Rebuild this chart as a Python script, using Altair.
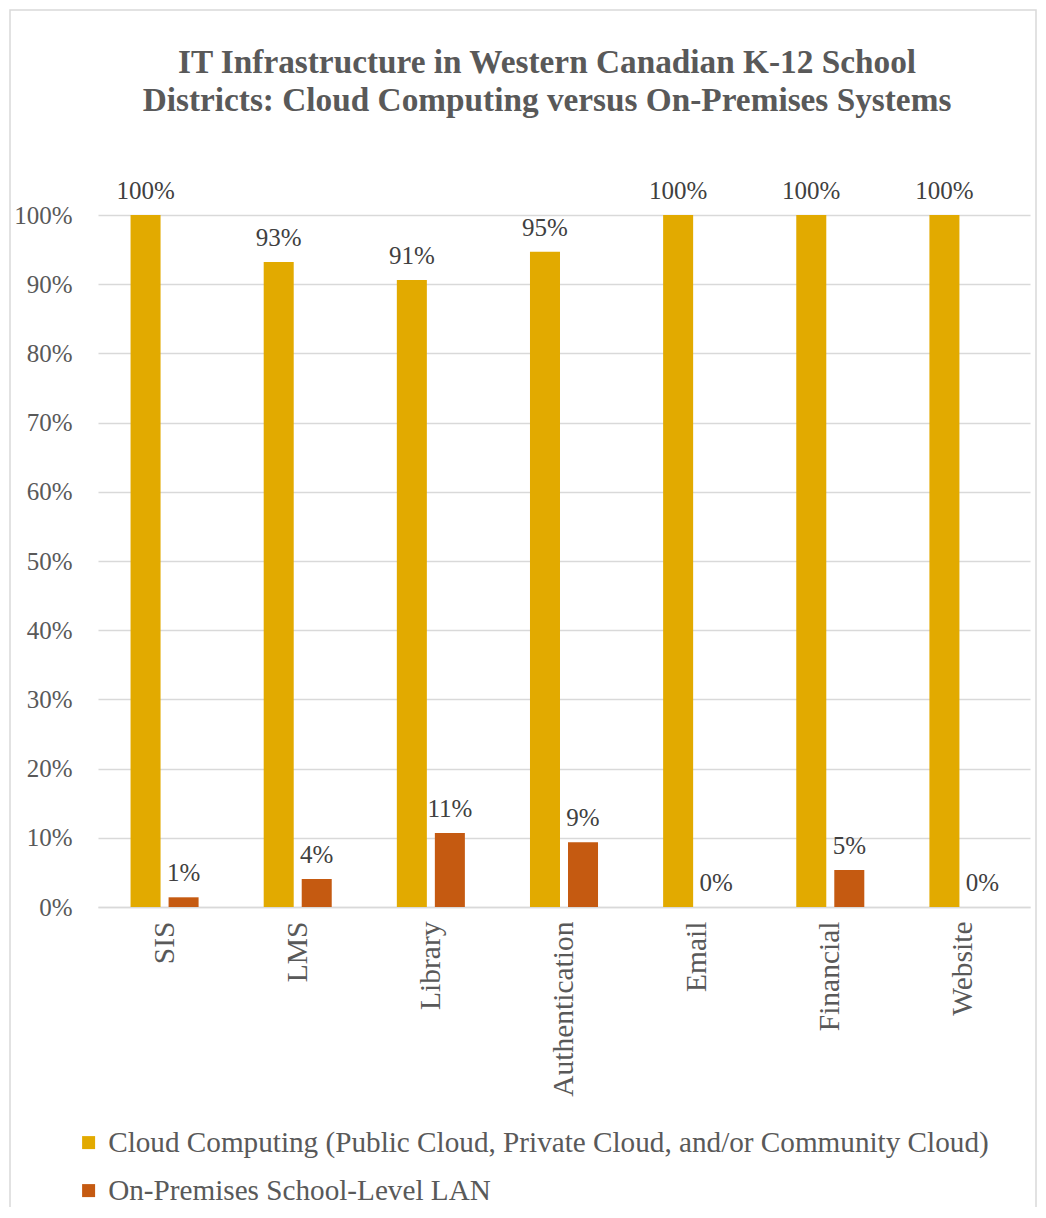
import altair as alt
import pandas as pd

categories = ["SIS", "LMS", "Library", "Authentication", "Email", "Financial", "Website"]
series = ["Cloud Computing (Public Cloud, Private Cloud, and/or Community Cloud)",
          "On-Premises School-Level LAN"]
cloud_values = [1.00, 0.932, 0.906, 0.947, 1.00, 1.00, 1.00]
lan_values = [0.014, 0.0405, 0.107, 0.0935, 0.0, 0.0535, 0.0]
colors = ["#E2AA00", "#C55A11"]

rows = []
for c, v in zip(categories, cloud_values):
    rows.append({"cat": c, "series": series[0], "value": v})
for c, v in zip(categories, lan_values):
    rows.append({"cat": c, "series": series[1], "value": v})
df = pd.DataFrame(rows)

FONT = "Liberation Serif"

x_enc = alt.X("cat:N", sort=categories, title=None,
              scale=alt.Scale(paddingInner=0.489, paddingOuter=0.2445),
              axis=alt.Axis(labelAngle=-90, labelFont=FONT, labelFontSize=29.5,
                            labelColor="#595959", labelPadding=14, ticks=False,
                            domainColor="#d9d9d9", domainWidth=1.5, grid=False))
xoff_enc = alt.XOffset("series:N", sort=series,
                       scale=alt.Scale(paddingInner=0.2105, paddingOuter=0))
y_enc = alt.Y("value:Q", title=None,
              scale=alt.Scale(domain=[0, 1], nice=False),
              axis=alt.Axis(values=[i / 10 for i in range(11)], format=".0%",
                            labelFont=FONT, labelFontSize=25, labelColor="#595959",
                            labelPadding=26, ticks=False, domain=False,
                            gridColor="#d9d9d9", gridWidth=1.5))
color_enc = alt.Color("series:N", sort=series,
                      scale=alt.Scale(domain=series, range=colors),
                      legend=alt.Legend(title=None, orient="none", legendX=-24, legendY=913,
                                        direction="vertical", symbolType="square",
                                        symbolSize=169, symbolStrokeWidth=0,
                                        labelFont=FONT, labelFontSize=29.2,
                                        labelColor="#595959", labelLimit=0,
                                        labelOffset=5, rowPadding=18))

base = alt.Chart(df)
bars = base.mark_bar().encode(x=x_enc, xOffset=xoff_enc, y=y_enc, color=color_enc)
labels = base.mark_text(font=FONT, fontSize=25, color="#404040",
                        baseline="alphabetic", dy=-16).encode(
    x=alt.X("cat:N", sort=categories),
    xOffset=alt.XOffset("series:N", sort=series),
    y="value:Q",
    text=alt.Text("value:Q", format=".0%"))

border = alt.Chart(alt.Data(values=[{}])).mark_rect(
    fill=None, stroke="#d9d9d9", strokeWidth=1.5).encode(
    x=alt.value(-88), x2=alt.value(938), y=alt.value(-205), y2=alt.value(1010))

chart = alt.layer(border, bars, labels).properties(
    width=932, height=692,
    autosize=alt.AutoSizeParams(type="none"),
    padding={"left": 90, "top": 207, "right": 8, "bottom": 300},
    title=alt.TitleParams(
        ["IT Infrastructure in Western Canadian K-12 School",
         "Districts: Cloud Computing versus On-Premises Systems"],
        font=FONT, fontSize=33.3, fontWeight="bold", color="#595959",
        anchor="middle", dx=-17, dy=109, offset=0, lineHeight=38),
).configure_view(strokeWidth=0)

chart.save("out.html", embed_options={"renderer": "svg", "actions": False})
